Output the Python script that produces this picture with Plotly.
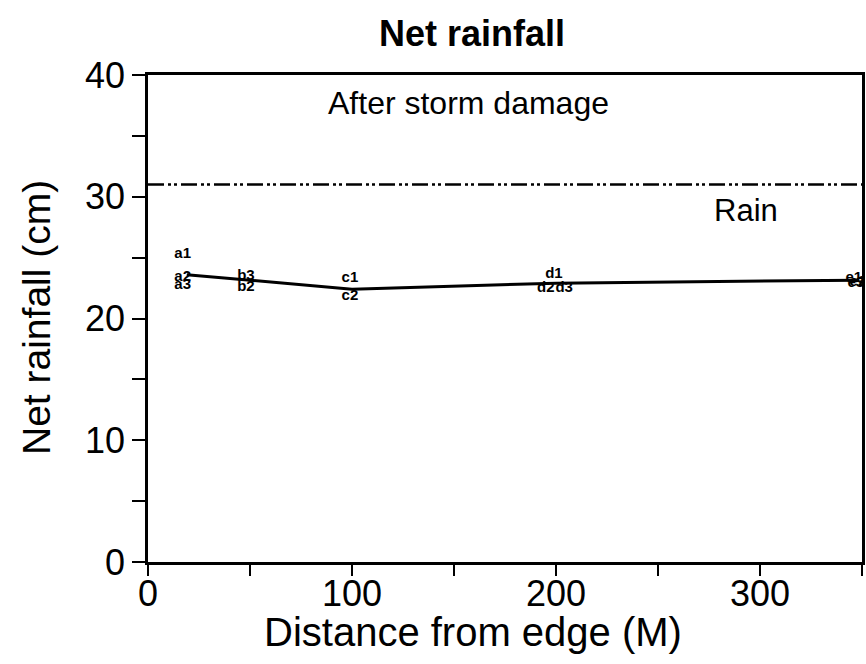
import plotly.graph_objects as go

# Mean net rainfall along the transect
distance = [19, 45, 100, 200, 348]
net_rainfall = [23.6, 23.2, 22.4, 22.9, 23.15]

# Individual gauge readings, labelled by site and gauge
gauge_labels = ["a1", "a2", "a3", "b3", "b2", "c1", "c2", "d1", "d2", "d3", "e1", "e2", "e3"]
gauge_x = [17, 17, 17, 48, 48, 99, 99, 199, 195, 204, 346, 348, 347]
gauge_y = [25.3, 23.4, 22.7, 23.5, 22.6, 23.3, 21.8, 23.6, 22.5, 22.5, 23.3, 23.0, 22.9]

# Open-field rainfall reference
rain_level = 31

x_ticks = [0, 100, 200, 300]
x_minor = [50, 150, 250, 350]
y_ticks = [0, 10, 20, 30, 40]
y_minor = [5, 15, 25, 35]

FONT = "Liberation Sans, Arial, Helvetica, sans-serif"

W, H = 866, 664
L, R, T, B = 148, 4, 75, 102


def px_to_paper(px, py):
    """Pixel position on the page -> paper coordinates of the plot area."""
    return (px - L) / (W - L - R), (H - B - py) / (H - T - B)


fig = go.Figure()

fig.add_trace(go.Scatter(
    x=[0, 350], y=[rain_level, rain_level], mode="lines",
    line=dict(color="black", width=2.5, dash="16px,4px,3px,3px,3px,4px"),
    hoverinfo="skip", showlegend=False,
))

fig.add_trace(go.Scatter(
    x=distance, y=net_rainfall, mode="lines",
    line=dict(color="black", width=3),
    showlegend=False,
))

fig.add_trace(go.Scatter(
    x=gauge_x, y=gauge_y, mode="text", text=gauge_labels,
    textfont=dict(family=FONT, size=15, color="black", weight="bold"),
    textposition="middle center",
    showlegend=False,
))

fig.add_annotation(x=157, y=37.7, text="After storm damage", showarrow=False,
                   xanchor="center", yanchor="middle",
                   font=dict(family=FONT, size=32, color="black"))
fig.add_annotation(x=293, y=28.9, text="Rain", showarrow=False,
                   xanchor="center", yanchor="middle",
                   font=dict(family=FONT, size=31, color="black"))

# x tick labels, set a little closer to the axis than the default placement
_, tick_y = px_to_paper(0, 571)
for v in x_ticks:
    fig.add_annotation(x=v, xref="x", y=tick_y, yref="paper", text=str(v),
                       showarrow=False, xanchor="center", yanchor="top",
                       font=dict(family=FONT, size=36, color="black"))

# Axis titles
tx, ty = px_to_paper(473, 632)
fig.add_annotation(x=tx, y=ty, xref="paper", yref="paper", text="Distance from edge (M)",
                   showarrow=False, xanchor="center", yanchor="middle",
                   font=dict(family=FONT, size=40, color="black"))
tx, ty = px_to_paper(36, 318)
fig.add_annotation(x=tx, y=ty, xref="paper", yref="paper", text="Net rainfall (cm)",
                   textangle=-90, showarrow=False, xanchor="center", yanchor="middle",
                   font=dict(family=FONT, size=39, color="black"))

fig.update_layout(
    width=W, height=H,
    margin=dict(l=L, r=R, t=T, b=B, autoexpand=False),
    paper_bgcolor="white", plot_bgcolor="white",
    title=dict(text="<b>Net rainfall</b>", x=472 / W, xanchor="center", y=1 - 33 / H, yanchor="middle",
               font=dict(family=FONT, size=36, color="black")),
    font=dict(family=FONT, color="black"),
)

fig.update_xaxes(
    range=[0, 350], tickvals=x_ticks, showticklabels=False,
    ticks="outside", ticklen=11, tickwidth=2,
    tickcolor="black", showline=True, linecolor="black", linewidth=2.5, mirror=True,
    showgrid=False, zeroline=False, automargin=False,
    minor=dict(tickvals=x_minor, ticks="outside", ticklen=11, tickwidth=2, tickcolor="black"),
)
fig.update_yaxes(
    range=[0, 40], tickvals=y_ticks, ticks="outside", ticklen=13, tickwidth=2,
    tickcolor="black", showline=True, linecolor="black", linewidth=2.5, mirror=True,
    showgrid=False, zeroline=False, automargin=False,
    tickfont=dict(family=FONT, size=36, color="black"),
    minor=dict(tickvals=y_minor, ticks="outside", ticklen=13, tickwidth=2, tickcolor="black"),
)

fig.write_html("out.html")
